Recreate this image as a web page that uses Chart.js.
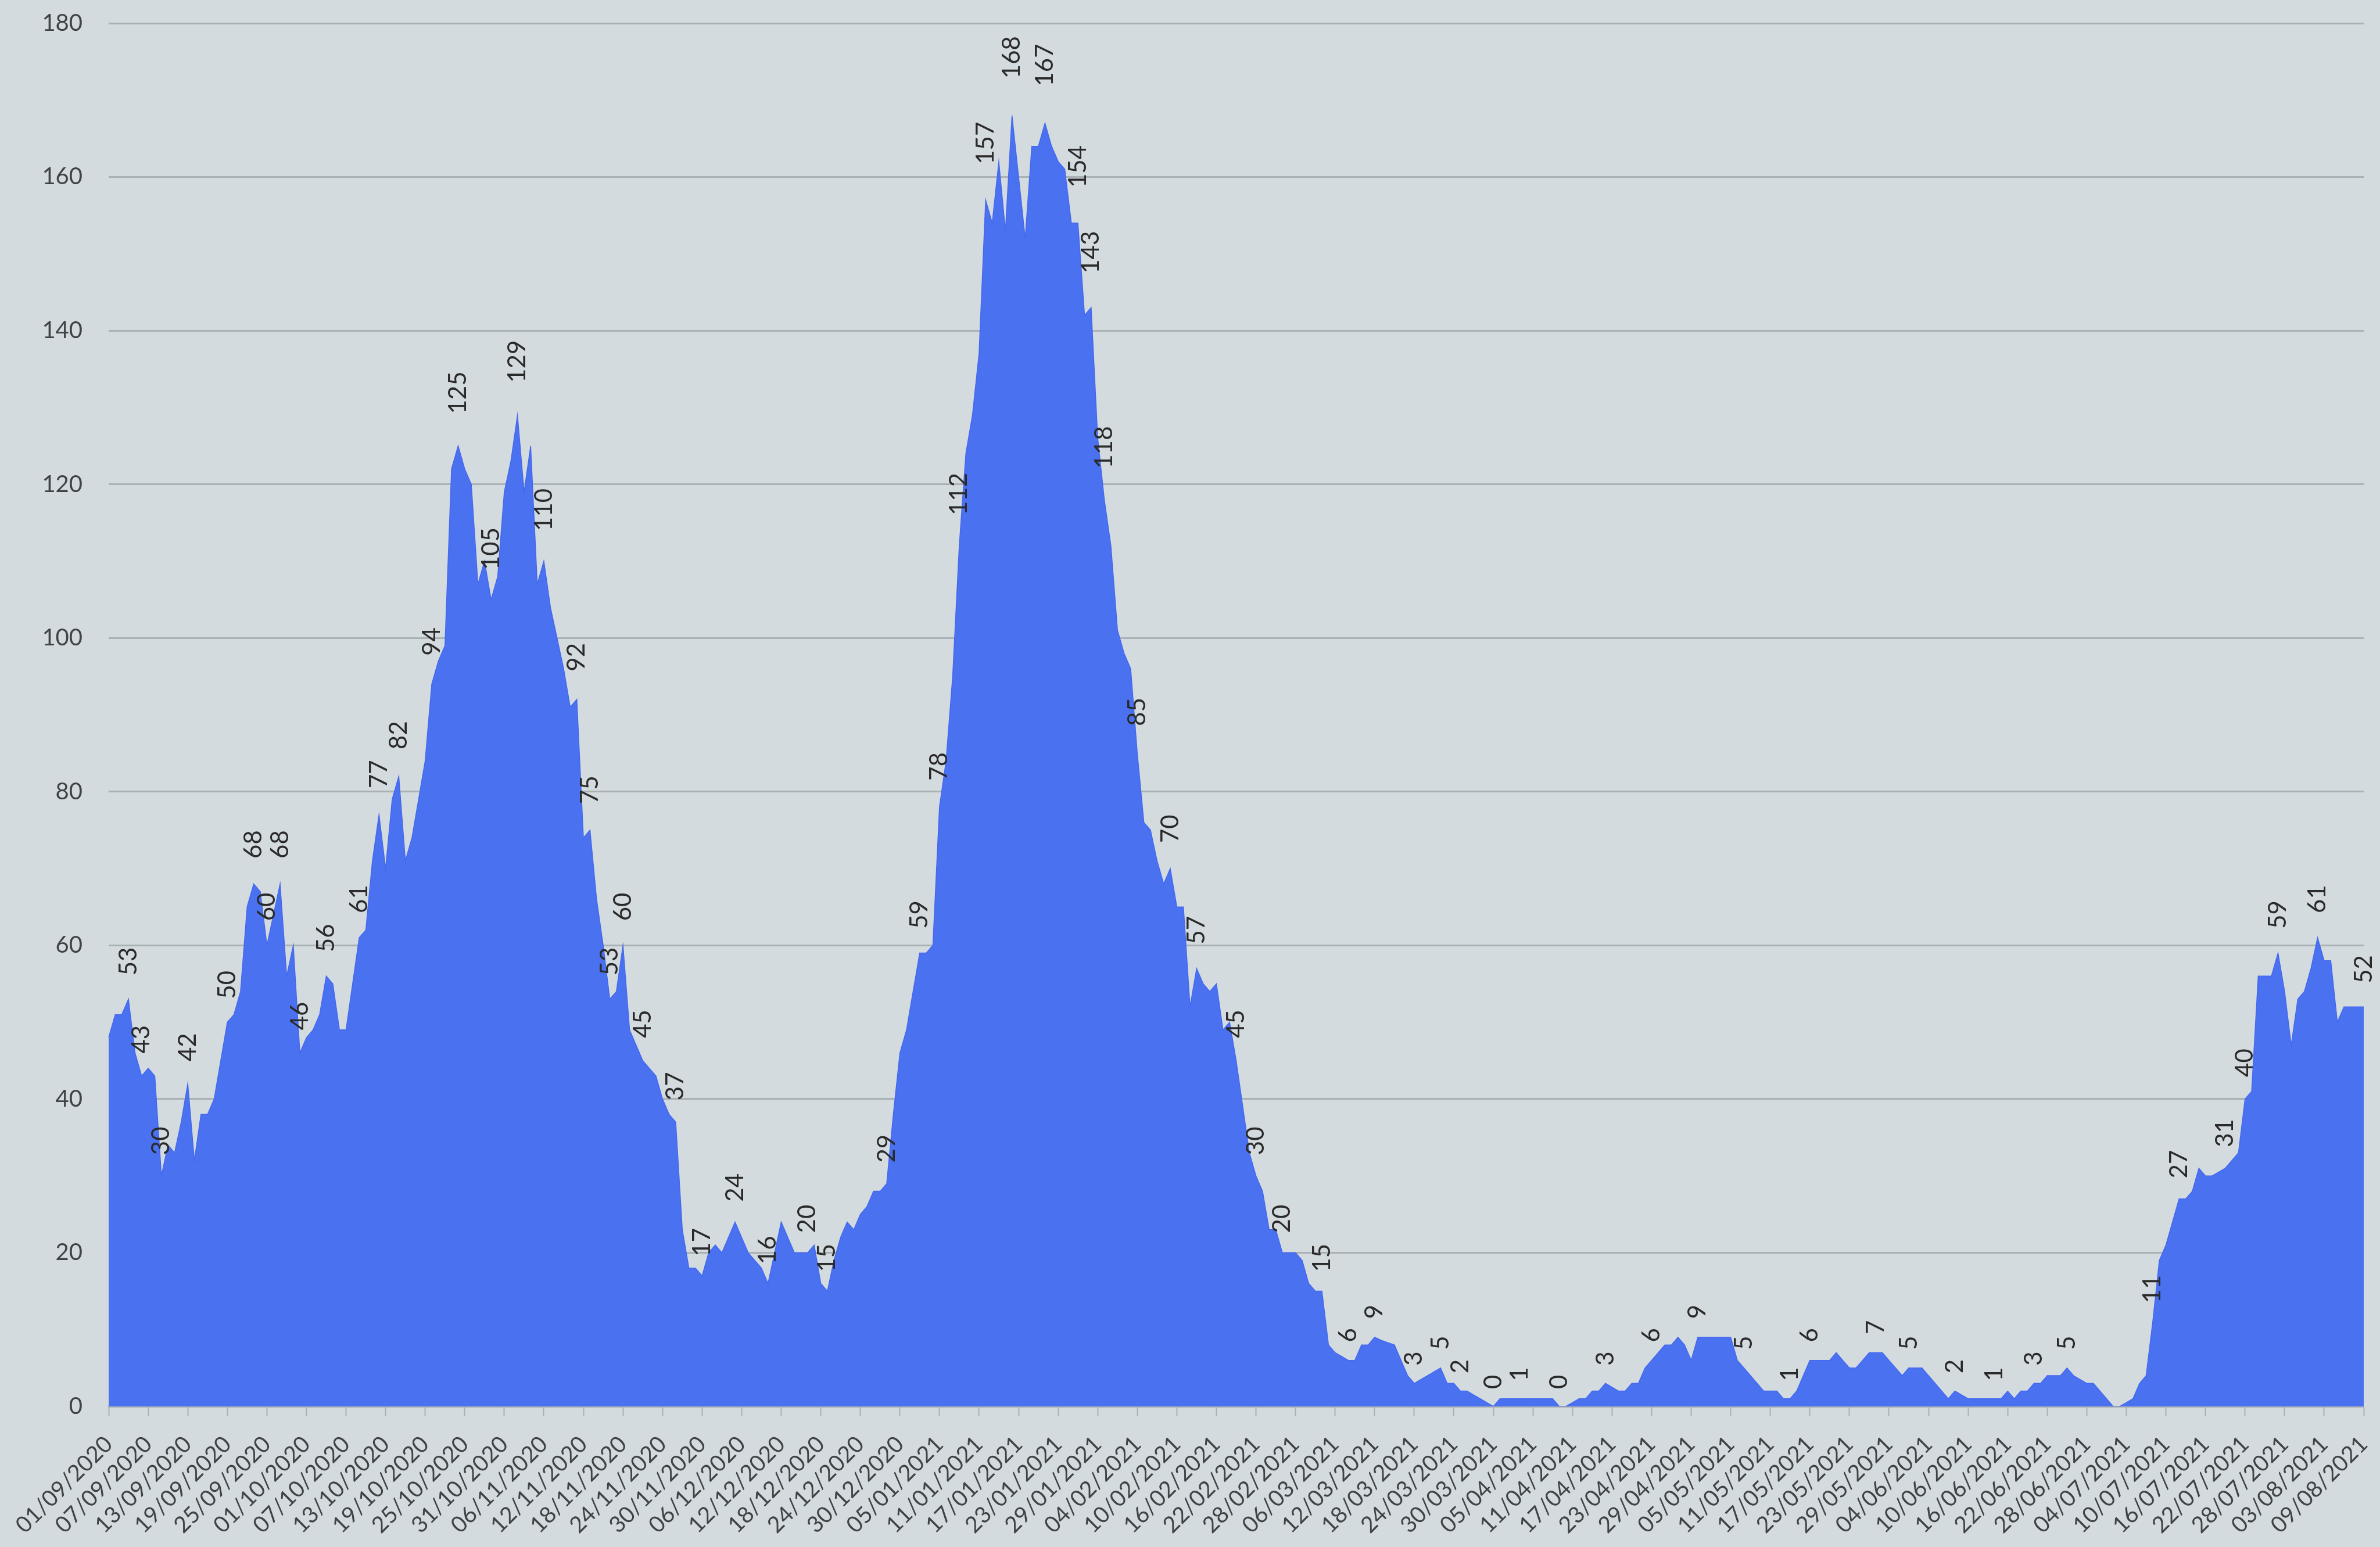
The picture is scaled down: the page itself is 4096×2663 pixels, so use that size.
<!DOCTYPE html>
<html>
<head>
<meta charset="utf-8">
<script src="https://cdn.jsdelivr.net/npm/chart.js@4.4.1/dist/chart.umd.min.js"></script>
<style>
  html, body { margin: 0; padding: 0; background: #d4dbdf; }
  #wrap { width: 4096px; height: 2663px; position: relative; }
  canvas { display: block; }
</style>
</head>
<body>
<div id="wrap"><canvas id="c" width="4096" height="2663"></canvas></div>
<script>
// ---- DATA ----
const startDay = [2020, 8, 1];   // 01/09/2020 (month 0-based)
const dayCount = 343;            // 01/09/2020 .. 09/08/2021
const tickEvery = 6;

const values = [
  48,51,51,53,46,43,44,43,30,34,
  33,37,42,32,38,38,40,45,50,51,
  54,65,68,67,60,64,68,56,60,46,
  48,49,51,56,55,49,49,55,61,62,
  71,77,70,79,82,71,74,79,84,94,
  97,99,122,125,122,120,107,110,105,108,
  119,123,129,119,125,107,110,104,100,96,
  91,92,74,75,66,60,53,54,60,49,
  47,45,44,43,40,38,37,23,18,18,
  17,20,21,20,22,24,22,20,19,18,
  16,20,24,22,20,20,20,21,16,15,
  19,22,24,23,25,26,28,28,29,38,
  46,49,54,59,59,60,78,84,95,112,
  124,129,137,157,154,162,153,168,160,152,
  164,164,167,164,162,161,154,154,142,143,
  126,118,112,101,98,96,85,76,75,71,
  68,70,65,65,52,57,55,54,55,49,
  50,45,39,33,30,28,23,23,20,20,
  20,19,16,15,15,8,7,6.5,6,6,
  8,8,9,8.6,8.3,8,6,4,3,3.5,
  4,4.5,5,3,3,2,2,1.5,1,0.5,
  0,1,1,1,1,1,1,1,1,1,
  0,0,0.5,1,1,2,2,3,2.5,2,
  2,3,3,5,6,7,8,8,9,8,
  6,9,9,9,9,9,9,6,5,4,
  3,2,2,2,1,1,2,4,6,6,
  6,6,7,6,5,5,6,7,7,7,
  6,5,4,5,5,5,4,3,2,1,
  2,1.5,1,1,1,1,1,1,2,1,
  2,2,3,3,4,4,4,5,4,3.5,
  3,3,2,1,0,0,0.5,1,3,4,
  11,19,21,24,27,27,28,31,30,30,
  30.5,31,32,33,40,41,56,56,56,59,
  54,47,53,54,57,61,58,58,50,52,
  52,52,52
];

// indices of points that carry a value label
const labelIdx = [3,5,8,12,18,22,24,26,29,33,38,41,44,49,53,58,62,66,71,73,76,78,81,86,90,95,
  100,106,109,118,123,126,129,133,137,142,147,149,151,156,161,165,171,174,178,184,188,192,
  198,202,205,210,214,220,227,234,241,248,255,258,268,273,280,286,292,297,310,314,321,324,
  329,335,342];

const yTicks = [0,20,40,60,80,100,120,140,160,180];

// categories: one per day
const categories = [];
(function(){
  const d = new Date(Date.UTC(startDay[0], startDay[1], startDay[2]));
  for (let i = 0; i < dayCount; i++) {
    const dd = String(d.getUTCDate()).padStart(2,'0');
    const mm = String(d.getUTCMonth()+1).padStart(2,'0');
    categories.push(dd + '/' + mm + '/' + d.getUTCFullYear());
    d.setUTCDate(d.getUTCDate() + 1);
  }
})();

// ---- STYLE / LAYOUT ----
const W = 4096, H = 2663;
const plotLeft = 187, plotRight = 4068, plotTop = 40, plotBottom = 2421;
const fontFam = 'Lato, "Open Sans", sans-serif';
const tickColor = '#3f4346';
const gridColor = '#aab1b5';

const dataLabelPlugin = {
  id: 'dataLabels',
  afterDatasetsDraw(chart) {
    const meta = chart.getDatasetMeta(0);
    const ctx = chart.ctx;
    ctx.save();
    ctx.font = '42px ' + fontFam;
    ctx.fillStyle = '#2a2a2a';
    ctx.textAlign = 'left';
    ctx.textBaseline = 'middle';
    labelIdx.forEach(i => {
      const p = meta.data[i];
      if (!p) return;
      const gap = 30 + 0.2 * values[i];
      ctx.save();
      ctx.translate(p.x, p.y - gap);
      ctx.rotate(-Math.PI / 2);
      ctx.fillText(String(values[i]), 0, 0);
      ctx.restore();
    });
    ctx.restore();
  }
};

const ctx = document.getElementById('c').getContext('2d');
new Chart(ctx, {
  type: 'line',
  data: {
    labels: categories,
    datasets: [{
      data: values,
      fill: 'origin',
      backgroundColor: '#4a71f0',
      borderColor: '#4468ee',
      borderWidth: 1.5,
      pointRadius: 0,
      tension: 0
    }]
  },
  options: {
    responsive: false,
    devicePixelRatio: 1,
    animation: false,
    layout: { padding: { left: 0, right: W - plotRight, top: plotTop, bottom: 0 } },
    plugins: { legend: { display: false }, tooltip: { enabled: false } },
    scales: {
      x: {
        type: 'category',
        offset: false,
        afterBuildTicks(scale) {
          scale.ticks = scale.ticks.filter(t => t.value % tickEvery === 0);
        },
        afterFit(scale) {
          scale.height = H - plotBottom;
          scale.paddingLeft = 0;
          scale.paddingRight = 0;
        },
        grid: {
          display: true,
          drawOnChartArea: false,
          drawTicks: true,
          tickLength: 17,
          tickColor: gridColor,
          tickWidth: 2
        },
        border: { display: true, color: gridColor, width: 3 },
        ticks: {
          autoSkip: false,
          maxRotation: 45,
          minRotation: 45,
          padding: 25,
          color: tickColor,
          font: { family: fontFam, size: 39 }
        }
      },
      y: {
        min: 0,
        max: 180,
        afterBuildTicks(scale) { scale.ticks = yTicks.map(v => ({ value: v })); },
        afterFit(scale) {
          scale.width = plotLeft;
          scale.paddingTop = 0;
          scale.paddingBottom = 0;
        },
        grid: { color: gridColor, lineWidth: 3, drawTicks: false },
        border: { display: false },
        ticks: {
          padding: 45,
          color: tickColor,
          font: { family: fontFam, size: 40 }
        }
      }
    }
  },
  plugins: [dataLabelPlugin]
});
</script>
</body>
</html>
